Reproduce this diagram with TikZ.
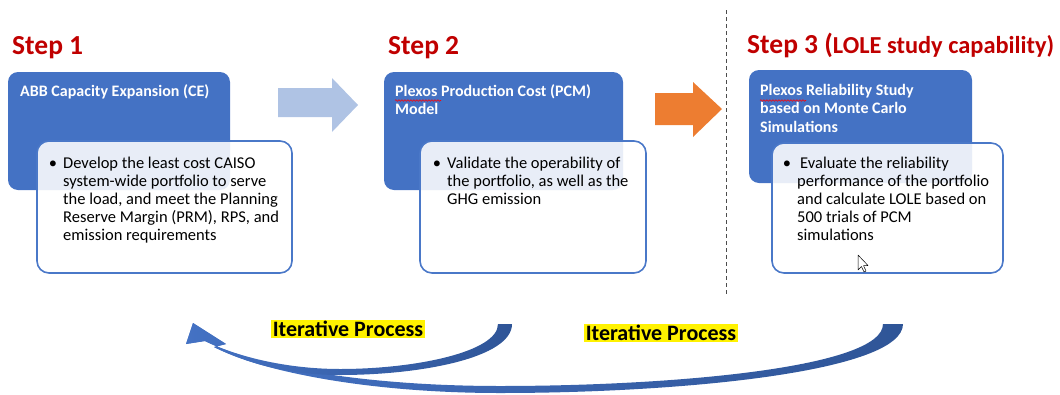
\documentclass[tikz,border=0pt]{standalone}
\usepackage{fontspec}
\setmainfont{Carlito}
\usetikzlibrary{positioning,decorations.pathmorphing}

\definecolor{stepred}{HTML}{C00000}
\definecolor{boxblue}{HTML}{4472C4}
\definecolor{lineblue}{HTML}{4A78C8}
\definecolor{paleblue}{HTML}{AFC3E4}
\definecolor{flowarrow}{HTML}{ED7D31}
\definecolor{loopdark}{HTML}{2F5597}

\newcommand{\bul}{\llap{\textbullet\hspace{6pt}}}

\tikzset{
  steplabel/.style={anchor=base west, inner sep=0, text=stepred, font=\bfseries\fontsize{27.5}{30}\selectfont},
  titlebox/.style={fill=boxblue, rounded corners=10pt, anchor=north west, inner sep=0, outer sep=0},
  detailbox/.style={draw=lineblue, line width=1.6pt, fill=white, fill opacity=0.88, rounded corners=12pt, anchor=north west, inner sep=0, outer sep=0},
  titletext/.style={anchor=north west, inner sep=0, text=white, align=left, font=\bfseries\fontsize{16}{18.5}\selectfont},
  bodytext/.style={anchor=north west, inner sep=0, align=left, font=\fontsize{16.5}{18}\selectfont},
  iterlabel/.style={fill=yellow, inner sep=1.5pt, font=\bfseries\fontsize{22}{24}\selectfont},
  squiggle/.style={draw=red, line width=0.6pt, decorate, decoration={snake, amplitude=0.8pt, segment length=3pt}},
}

\begin{document}
\begin{tikzpicture}[x=1pt, y=-1pt]
\useasboundingbox (0,0) rectangle (1060,394);

% step headings
\node[steplabel] (s1) at (12,54) {Step 1};
\node[steplabel] (s2) at (388,54) {Step 2};
\node[steplabel] (s3) at (747,53) {Step 3 (\fontsize{24.4}{26}\selectfont LOLE study capability)};

% blue model boxes
\node[titlebox, minimum width=222pt, minimum height=118pt] (ce) at (8,72) {};
\node[titlebox, minimum width=239pt, minimum height=118pt] (pcm) at (384,72) {};
\node[titlebox, minimum width=223pt, minimum height=113pt] (rel) at (749,70) {};

\node[titletext] (cet) at (20,84) {ABB Capacity Expansion (CE)};
\node[titletext] (pcmt) at (395,84) {Plexos Production Cost (PCM)\\Model};
\node[titletext] (relt) at (760,84) {Plexos Reliability Study\\based on Monte Carlo\\Simulations};
\draw[squiggle] (395,100.5) -- (441,100.5);
\draw[squiggle] (760,100.5) -- (806,100.5);

% white detail boxes on top
\node[detailbox, minimum width=255pt, minimum height=132pt] (ced) at (37,141) {};
\node[detailbox, minimum width=226pt, minimum height=132pt] (pcmd) at (420,141) {};
\node[detailbox, minimum width=231pt, minimum height=130pt] (reld) at (772,143) {};

\node[bodytext] (ceb) at (63,157) {\bul Develop the least cost CAISO\\system-wide portfolio to serve\\the load, and meet the Planning\\Reserve Margin (PRM), RPS, and\\emission requirements};
\node[bodytext] (pcmb) at (447,157) {\bul Validate the operability of\\the portfolio, as well as the\\GHG emission};
\node[bodytext] (relb) at (797,157) {\bul\hspace{3pt}Evaluate the reliability\\performance of the portfolio\\and calculate LOLE based on\\500 trials of PCM\\simulations};

% pointer
\draw[fill=white, line width=0.5pt, line join=round] (858,255) -- (858,270) -- (861.5,266.5) -- (864,272) -- (866,271) -- (863.5,265.5) -- (868,265.5) -- cycle;

% block arrows between steps
\fill[paleblue] (278,88) -- (332,88) -- (332,78) -- (358,105) -- (332,132) -- (332,117) -- (278,117) -- cycle;
\fill[flowarrow] (655,93) -- (693,93) -- (693,82) -- (722,109) -- (693,137) -- (693,125) -- (655,125) -- cycle;

% separator
\draw[gray!60!black, line width=0.8pt, dash pattern=on 4pt off 3pt] (726,10) -- (726,295);

% iteration loops back to step 1
\shade[left color=boxblue, right color=loopdark]
  (903,324) .. controls (903,372) and (680,393) .. (500,393) .. controls (370,393) and (262,372) .. (214,347)
  -- (226,344) -- (193,323) -- (186,344) -- (205,341)
  .. controls (258,368) and (370,386) .. (500,386) .. controls (670,386) and (883,368) .. (883,324) -- cycle;
\shade[left color=boxblue, right color=loopdark]
  (512,324) .. controls (512,358) and (420,375) .. (340,375) .. controls (285,375) and (245,362) .. (214,347)
  -- (226,344) -- (193,323) -- (186,344) -- (205,341)
  .. controls (240,358) and (290,369) .. (340,369) .. controls (415,369) and (498,352) .. (498,324) -- cycle;

\node[iterlabel] (it1) at (348,329) {Iterative Process};
\node[iterlabel] (it2) at (661,333) {Iterative Process};
\end{tikzpicture}
\end{document}
